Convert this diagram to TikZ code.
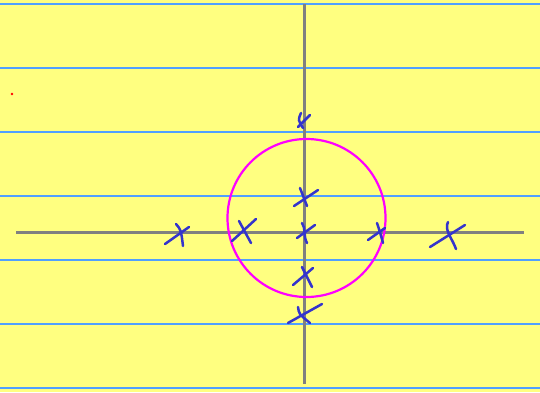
\documentclass[tikz,border=0pt]{standalone}
\definecolor{paper}{RGB}{255,255,128}
\definecolor{rule}{RGB}{80,160,255}
\definecolor{axisgray}{RGB}{128,128,128}
\definecolor{ink}{RGB}{52,52,204}
\definecolor{ring}{RGB}{255,0,255}
\tikzset{
  ruleline/.style={rule, line width=1.2pt},
  axisline/.style={axisgray, line width=3pt},
  mark stroke/.style={ink, line width=2.5pt, line cap=round},
}
\begin{document}
\begin{tikzpicture}[x=1pt,y=-1pt]
\fill[paper] (0,0) rectangle (540,392);
\useasboundingbox (0,0) rectangle (540,392);
\foreach \y in {4,68,132,196,260,324,388}
  \draw[ruleline] (0,\y) -- (540,\y);
\draw[axisline] (16,232) -- (524,232);
\draw[axisline] (304,4) -- (304,384);
\draw[ring, line width=2.2pt] (306.5,218) circle (79);
\fill[red] (12,94) circle (1.4);
% crosses
\draw[mark stroke] (165,244) -- (189,227);
\draw[mark stroke] (176,224) .. controls (181,230) .. (183,246);
\draw[mark stroke] (232,241) -- (256,219);
\draw[mark stroke] (239,221) .. controls (245,232) .. (251,243);
\draw[mark stroke] (298,127) -- (310,115);
\draw[mark stroke] (301,113) .. controls (298,120) .. (303,128);
\draw[mark stroke] (294,206) -- (318,190);
\draw[mark stroke] (300,188) -- (307,206);
\draw[mark stroke] (297,238) -- (315,225);
\draw[mark stroke] (302,223) .. controls (306,228) and (303,236) .. (307,243);
\draw[mark stroke] (293,285) -- (313,268);
\draw[mark stroke] (302,267) -- (312,287);
\draw[mark stroke] (288,323) -- (322,304);
\draw[mark stroke] (298,307) .. controls (299,314) .. (310,323);
\draw[mark stroke] (368,240) -- (385,228);
\draw[mark stroke] (377,223) .. controls (380,232) .. (383,243);
\draw[mark stroke] (430,247) -- (465,225);
\draw[mark stroke] (448,222) .. controls (444,230) and (452,238) .. (456,249);
\end{tikzpicture}
\end{document}
